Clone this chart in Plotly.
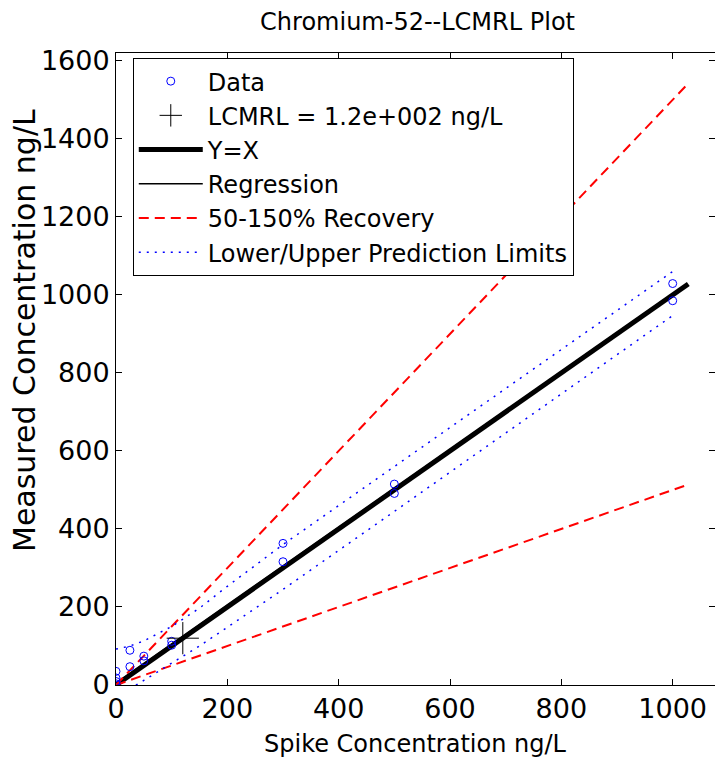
import plotly.graph_objects as go

# ---- data ----
data_x = [0, 0, 0, 0, 25, 25, 50, 50, 100, 100, 300, 300, 500, 500, 1000, 1000]
data_y = [35, 18, 9, 3, 89, 47, 74, 62, 112, 102, 363, 316, 515, 491, 1029, 985]

lcmrl_x = [120]
lcmrl_y = [120]

yx_x = [0, 1028]
yx_y = [0, 1028]

reg_x = [0, 1000]
reg_y = [5, 1003]

rec_x = [0, 1028]
rec_hi = [0, 1542]
rec_lo = [0, 514]

pl_x = [0, 25, 50, 100, 150, 200, 300, 500, 700, 1000]
pl_up = [92, 100, 113, 150, 197, 253, 360, 560, 760, 1060]
pl_lo = [-35, -10, 12, 55, 100, 148, 245, 445, 645, 947]

xticks = [0, 200, 400, 600, 800, 1000]
yticks = [0, 200, 400, 600, 800, 1000, 1200, 1400, 1600]

FONT = "DejaVu Sans"

fig = go.Figure()

fig.add_trace(go.Scatter(
    x=yx_x, y=yx_y, mode="lines", name="Y=X",
    line=dict(color="black", width=5), legendrank=3))
fig.add_trace(go.Scatter(
    x=reg_x, y=reg_y, mode="lines", name="Regression",
    line=dict(color="black", width=1.5), legendrank=4))
fig.add_trace(go.Scatter(
    x=rec_x + [None] + rec_x, y=rec_hi + [None] + rec_lo, mode="lines",
    name="50-150% Recovery",
    line=dict(color="#ff0000", width=2, dash="10px,6px"), legendrank=5))
fig.add_trace(go.Scatter(
    x=pl_x + [None] + pl_x, y=pl_up + [None] + pl_lo, mode="lines",
    name="Lower/Upper Prediction Limits",
    line=dict(color="#0000ff", width=1.5, dash="2px,6px"), legendrank=6))
fig.add_trace(go.Scatter(
    x=data_x, y=data_y, mode="markers", name="Data",
    marker=dict(symbol="circle-open", size=8, color="#0000ff",
                line=dict(width=1, color="#0000ff")), legendrank=1))
fig.add_trace(go.Scatter(
    x=lcmrl_x, y=lcmrl_y, mode="markers", name="LCMRL = 1.2e+002 ng/L",
    marker=dict(symbol="cross-thin-open", size=23, color="black",
                line=dict(width=1, color="black")), legendrank=2))

axis_common = dict(
    showline=True, linecolor="black", linewidth=1, mirror="allticks",
    ticks="inside", ticklen=6, tickcolor="black", tickwidth=1,
    showgrid=False, zeroline=False, automargin=False,
    tickfont=dict(family=FONT, size=27, color="black"),
)

fig.update_layout(
    width=715, height=757,
    margin=dict(l=116, r=0, t=53, b=72, autoexpand=False),
    paper_bgcolor="white", plot_bgcolor="white",
    title=dict(text="Chromium-52--LCMRL Plot", x=0.584, xanchor="center",
               y=0.971, yanchor="middle",
               font=dict(family=FONT, size=24, color="black")),
    xaxis=dict(range=[0, 1076], tickvals=xticks, **axis_common),
    yaxis=dict(range=[0, 1620], tickvals=yticks, **axis_common),
    legend=dict(x=0.028, y=0.992, xanchor="left", yanchor="top",
                bgcolor="white", bordercolor="black", borderwidth=1,
                font=dict(family=FONT, size=24, color="black"),
                itemwidth=64, traceorder="normal", tracegroupgap=0),
    showlegend=True,
    annotations=[
        dict(text="Spike Concentration ng/L", xref="paper", yref="paper",
             x=0.5, y=-0.0934, xanchor="center", yanchor="middle",
             showarrow=False, font=dict(family=FONT, size=24, color="black")),
        dict(text="Measured Concentration ng/L", xref="paper", yref="paper",
             x=-0.1536, y=0.5617, xanchor="center", yanchor="middle",
             textangle=-90, showarrow=False,
             font=dict(family=FONT, size=30, color="black")),
    ],
)

fig.write_html(
    "out.html",
    config={"displayModeBar": False},
    post_script="document.body.style.margin='0';document.body.style.overflow='hidden';",
)
